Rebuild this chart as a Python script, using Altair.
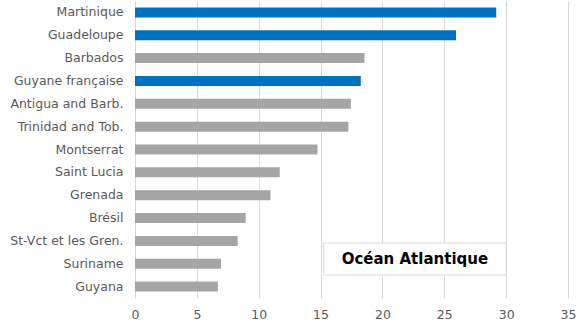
import altair as alt
import pandas as pd

countries = ["Martinique", "Guadeloupe", "Barbados", "Guyane française",
             "Antigua and Barb.", "Trinidad and Tob.", "Montserrat", "Saint Lucia",
             "Grenada", "Brésil", "St-Vct et les Gren.", "Suriname", "Guyana"]
values = [29.2, 25.95, 18.55, 18.25, 17.45, 17.25, 14.75, 11.7, 10.95, 8.95, 8.3, 6.95, 6.7]
groups = ["fr", "fr", "other", "fr", "other", "other", "other", "other",
          "other", "other", "other", "other", "other"]
annotation = ["Océan Atlantique"]
box_x = [15.25]
box_x2 = [30.0]

df = pd.DataFrame({"country": countries, "value": values, "group": groups})
ann = pd.DataFrame({"label": annotation, "x": box_x, "x2": box_x2,
                    "xc": [(box_x[0] + box_x2[0]) / 2]})

bars = alt.Chart(df).mark_bar(size=10).encode(
    y=alt.Y("country:N", sort=countries, title=None,
            scale=alt.Scale(paddingInner=0.56, paddingOuter=0.28),
            axis=alt.Axis(domain=False, ticks=False, labelPadding=12,
                          labelFontSize=12.5, labelColor="#595959",
                          labelFont="DejaVu Sans", grid=False)),
    x=alt.X("value:Q", title=None,
            scale=alt.Scale(domain=[0, 35], nice=False),
            axis=alt.Axis(values=[0, 5, 10, 15, 20, 25, 30, 35], domain=False,
                          ticks=False, labelPadding=10, labelFontSize=12.5,
                          labelFlush=False,
                          labelColor="#595959", labelFont="DejaVu Sans",
                          gridColor="#D9D9D9", gridWidth=1)),
    color=alt.Color("group:N", scale=alt.Scale(domain=["fr", "other"],
                    range=["#0070C0", "#A5A5A5"]), legend=None),
)

box = alt.Chart(ann).mark_rect(fill="white", stroke="#D9D9D9", strokeWidth=1).encode(
    x="x:Q", x2="x2:Q", y=alt.value(242), y2=alt.value(274))

txt = alt.Chart(ann).mark_text(fontWeight="bold", fontSize=15, color="black",
                               font="DejaVu Sans", baseline="middle").encode(
    x="xc:Q", y=alt.value(258), text="label:N")

chart = alt.layer(bars, box, txt).properties(
    width=433, height=297,
    autosize=alt.AutoSizeParams(type="none"),
    padding={"left": 135, "top": 1, "right": 14, "bottom": 24},
).configure_view(stroke=None)

chart.save("out.html", embed_options={"renderer": "svg", "actions": False})
